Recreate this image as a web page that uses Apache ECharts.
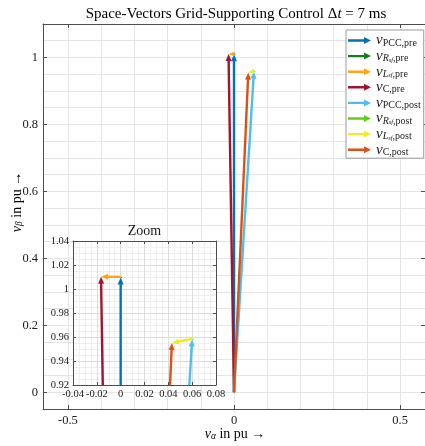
<!DOCTYPE html>
<html>
<head>
<meta charset="utf-8">
<script src="https://cdn.jsdelivr.net/npm/echarts@6/dist/echarts.min.js"></script>
<style>
  html, body { margin: 0; padding: 0; background: #fff; }
  #main { width: 425px; height: 446px; }
</style>
</head>
<body>
<div id="main"></div>
<script>
// space vectors (alpha, beta) in pu
var vPccPre = [0, 1.0095];
var vRsfPre = [0.0005, 0.0006];
var vLsfPre = [-0.017, 0.0002];
var vCPre = [-0.0165, 1.0103];
var vPccPost = [0.060, 0.958];
var vRsfPost = [0.0005, 0.0006];
var vLsfPost = [-0.0175, -0.0036];
var vCPost = [0.043, 0.955];

// ticks / grid
var xTicks = [-0.5, 0, 0.5];
var yTicks = [0, 0.2, 0.4, 0.6, 0.8, 1];
var xMinorGrid = [-0.5, -0.4, -0.3, -0.2, -0.1, 0, 0.1, 0.2, 0.3, 0.4, 0.5];

var names = ['PCC,pre', 'Rsf,pre', 'Lsf,pre', 'C,pre', 'PCC,post', 'Rsf,post', 'Lsf,post', 'C,post'];
var colors = ['#0072BD', '#137F1B', '#FFA51C', '#A2142F', '#4DBEEE', '#66CC1A', '#EEEE22', '#D95319'];

var serif = 'Liberation Serif';
var txt = '#1a1a1a';
var axisCol = '#4d4d4d';

function add(a, b) { return [a[0] + b[0], a[1] + b[1]]; }

// start/end of every arrow: PCC -> +R -> +L chain, C from the origin
function chain(pcc, r, l, c) {
  var p1 = pcc, p2 = add(p1, r), p3 = add(p2, l);
  return [
    [0, 0, p1[0], p1[1]],
    [p1[0], p1[1], p2[0], p2[1]],
    [p2[0], p2[1], p3[0], p3[1]],
    [0, 0, c[0], c[1]]
  ];
}
var arrows = chain(vPccPre, vRsfPre, vLsfPre, vCPre).concat(chain(vPccPost, vRsfPost, vLsfPost, vCPost));

function arrowItem(params, api) {
  var p0 = api.coord([api.value(0), api.value(1)]);
  var p1 = api.coord([api.value(2), api.value(3)]);
  var dx = p1[0] - p0[0], dy = p1[1] - p0[1];
  var len = Math.sqrt(dx * dx + dy * dy) || 1e-6;
  var ux = dx / len, uy = dy / len;
  var hl = Math.min(7, len), hw = hl * 0.43;
  var bx = p1[0] - ux * hl, by = p1[1] - uy * hl;
  var color = api.visual('color');
  return {
    type: 'group',
    children: [
      { type: 'line', shape: { x1: p0[0], y1: p0[1], x2: bx + ux, y2: by + uy },
        style: { stroke: color, lineWidth: 2.4 } },
      { type: 'polygon', shape: { points: [[p1[0], p1[1]], [bx - uy * hw, by + ux * hw], [bx + uy * hw, by - ux * hw]] },
        style: { fill: color } }
    ]
  };
}

var series = [];
names.forEach(function (n, i) {
  series.push({
    name: n, type: 'custom', xAxisIndex: 0, yAxisIndex: 0, clip: true, z: 2,
    itemStyle: { color: colors[i] }, renderItem: arrowItem, data: [arrows[i]]
  });
});
names.forEach(function (n, i) {
  series.push({
    name: n, type: 'custom', xAxisIndex: 3, yAxisIndex: 3, clip: true, z: 6,
    itemStyle: { color: colors[i] }, renderItem: arrowItem, data: [arrows[i]]
  });
});

var labelRich = {
  v: { fontFamily: serif, fontStyle: 'italic', fontSize: 15, lineHeight: 15, color: txt },
  s: { fontFamily: serif, fontSize: 10, lineHeight: 7, verticalAlign: 'bottom', color: txt },
  si: { fontFamily: serif, fontStyle: 'italic', fontSize: 10, lineHeight: 7, verticalAlign: 'bottom', color: txt },
  ss: { fontFamily: serif, fontStyle: 'italic', fontSize: 6.5, lineHeight: 3, verticalAlign: 'bottom', color: txt }
};
function legendLabel(name) {
  var parts = name.split(',');
  if (parts[0] === 'Rsf' || parts[0] === 'Lsf') {
    return '{v|v}{si|' + parts[0].charAt(0) + '}{ss|sf}{s|,' + parts[1] + '}';
  }
  return '{v|v}{s|' + name + '}';
}

var arrowIcon = 'path://M0,2.3 L16,2.3 L16,0 L23,3.5 L16,7 L16,4.7 L0,4.7 Z';

var chart = echarts.init(document.getElementById('main'), null, { renderer: 'canvas' });
chart.setOption({
  animation: false,
  backgroundColor: '#fff',
  grid: [
    { left: 43, top: 24, width: 384, height: 385, containLabel: false },
    { left: 73, top: 241, width: 143, height: 144, show: true, backgroundColor: '#fff', borderWidth: 0, z: 3 }
  ],
  xAxis: [
    { type: 'value', gridIndex: 0, min: -0.575, max: 0.575, position: 'bottom', z: 0,
      axisLine: { onZero: false, lineStyle: { color: axisCol, width: 1 } },
      axisTick: { inside: true, length: 4, customValues: xTicks, lineStyle: { color: axisCol } },
      axisLabel: { customValues: xTicks, color: txt, fontFamily: serif, fontSize: 12.5, margin: 5 },
      splitLine: { show: false } },
    { type: 'value', gridIndex: 0, min: -0.575, max: 0.575, position: 'top', z: 0,
      axisLine: { onZero: false, lineStyle: { color: axisCol, width: 1 } },
      axisTick: { inside: true, length: 4, customValues: xTicks, lineStyle: { color: axisCol } },
      axisLabel: { show: false },
      splitLine: { show: false } },
    { type: 'value', gridIndex: 0, min: -0.575, max: 0.575, position: 'bottom', z: 0, show: true,
      axisLine: { show: false }, axisLabel: { show: false },
      axisTick: { show: false, customValues: xMinorGrid },
      splitLine: { show: true, lineStyle: { color: '#e4e4e4', width: 1 } } },
    { type: 'value', gridIndex: 1, min: -0.04, max: 0.08, interval: 0.02, position: 'bottom', z: 4,
      axisLine: { onZero: false, lineStyle: { color: axisCol, width: 1 } },
      axisTick: { inside: true, length: 3, lineStyle: { color: axisCol } },
      axisLabel: { color: txt, fontFamily: serif, fontSize: 10.5, margin: 4 },
      splitLine: { show: true, lineStyle: { color: '#dcdcdc', width: 1 } } },
    { type: 'value', gridIndex: 1, min: -0.04, max: 0.08, interval: 0.02, position: 'top', z: 4,
      axisLine: { onZero: false, lineStyle: { color: axisCol, width: 1 } },
      axisTick: { inside: true, length: 3, lineStyle: { color: axisCol } },
      axisLabel: { show: false }, splitLine: { show: false } },
    { type: 'value', gridIndex: 1, min: -0.04, max: 0.08, interval: 0.005, position: 'bottom', z: 3.5,
      axisLine: { show: false }, axisLabel: { show: false }, axisTick: { show: false },
      splitLine: { show: true, lineStyle: { color: '#efefef', width: 1 } } }
  ],
  yAxis: [
    { type: 'value', gridIndex: 0, min: -0.05, max: 1.1, position: 'left', z: 0,
      axisLine: { show: true, onZero: false, lineStyle: { color: axisCol, width: 1 } },
      axisTick: { show: true, inside: true, length: 4, customValues: yTicks, lineStyle: { color: axisCol } },
      axisLabel: { customValues: yTicks, color: txt, fontFamily: serif, fontSize: 12.5, margin: 5 },
      splitLine: { show: false } },
    { type: 'value', gridIndex: 0, min: -0.05, max: 1.1, position: 'right', z: 0,
      axisLine: { show: true, onZero: false, lineStyle: { color: axisCol, width: 1 } },
      axisTick: { show: true, inside: true, length: 4, customValues: yTicks, lineStyle: { color: axisCol } },
      axisLabel: { show: false }, splitLine: { show: false } },
    { type: 'value', gridIndex: 0, min: -0.05, max: 1.1, interval: 0.05, position: 'left', z: 0,
      axisLine: { show: false }, axisLabel: { show: false }, axisTick: { show: false },
      splitLine: { show: true, lineStyle: { color: '#e4e4e4', width: 1 } } },
    { type: 'value', gridIndex: 1, min: 0.92, max: 1.04, interval: 0.02, position: 'left', z: 4,
      axisLine: { show: true, onZero: false, lineStyle: { color: axisCol, width: 1 } },
      axisTick: { show: true, inside: true, length: 3, lineStyle: { color: axisCol } },
      axisLabel: { color: txt, fontFamily: serif, fontSize: 10.5, margin: 4 },
      splitLine: { show: true, lineStyle: { color: '#dcdcdc', width: 1 } } },
    { type: 'value', gridIndex: 1, min: 0.92, max: 1.04, interval: 0.02, position: 'right', z: 4,
      axisLine: { show: true, onZero: false, lineStyle: { color: axisCol, width: 1 } },
      axisTick: { show: true, inside: true, length: 3, lineStyle: { color: axisCol } },
      axisLabel: { show: false }, splitLine: { show: false } },
    { type: 'value', gridIndex: 1, min: 0.92, max: 1.04, interval: 0.005, position: 'left', z: 3.5,
      axisLine: { show: false }, axisLabel: { show: false }, axisTick: { show: false },
      splitLine: { show: true, lineStyle: { color: '#efefef', width: 1 } } }
  ],
  legend: {
    data: names.map(function (n) { return { name: n, icon: arrowIcon }; }),
    orient: 'vertical', left: 346, top: 30,
    itemWidth: 23, itemHeight: 7, itemGap: 0.6,
    padding: [3, 3, 1, 2],
    borderColor: '#9a9a9a', borderWidth: 1, backgroundColor: '#fff',
    formatter: legendLabel,
    textStyle: { rich: labelRich }
  },
  graphic: [
    { type: 'text', x: 236, y: 14, z: 10,
      style: { text: '{a|Space-Vectors Grid-Supporting Control Δ}{i|t}{a| = 7 ms}', align: 'center', verticalAlign: 'middle',
        rich: { a: { fontFamily: serif, fontSize: 15, color: txt }, i: { fontFamily: serif, fontStyle: 'italic', fontSize: 15, color: txt } } } },
    { type: 'text', x: 235, y: 434, z: 10,
      style: { text: '{v|v}{s|α}{a| in pu →}', align: 'center', verticalAlign: 'middle',
        rich: { v: { fontFamily: serif, fontStyle: 'italic', fontSize: 14, lineHeight: 15, color: txt },
                s: { fontFamily: serif, fontStyle: 'italic', fontSize: 9.5, lineHeight: 7, verticalAlign: 'bottom', color: txt },
                a: { fontFamily: serif, fontSize: 14, lineHeight: 15, color: txt } } } },
    { type: 'text', x: 17, y: 202, rotation: Math.PI / 2, z: 10,
      style: { text: '{v|v}{s|β}{a| in pu →}', align: 'center', verticalAlign: 'middle',
        rich: { v: { fontFamily: serif, fontStyle: 'italic', fontSize: 14, lineHeight: 15, color: txt },
                s: { fontFamily: serif, fontStyle: 'italic', fontSize: 9.5, lineHeight: 7, verticalAlign: 'bottom', color: txt },
                a: { fontFamily: serif, fontSize: 14, lineHeight: 15, color: txt } } } },
    { type: 'text', x: 144.5, y: 231, z: 10,
      style: { text: 'Zoom', align: 'center', verticalAlign: 'middle', fontFamily: serif, fontSize: 14, fill: txt } }
  ],
  series: series
});
</script>
</body>
</html>
